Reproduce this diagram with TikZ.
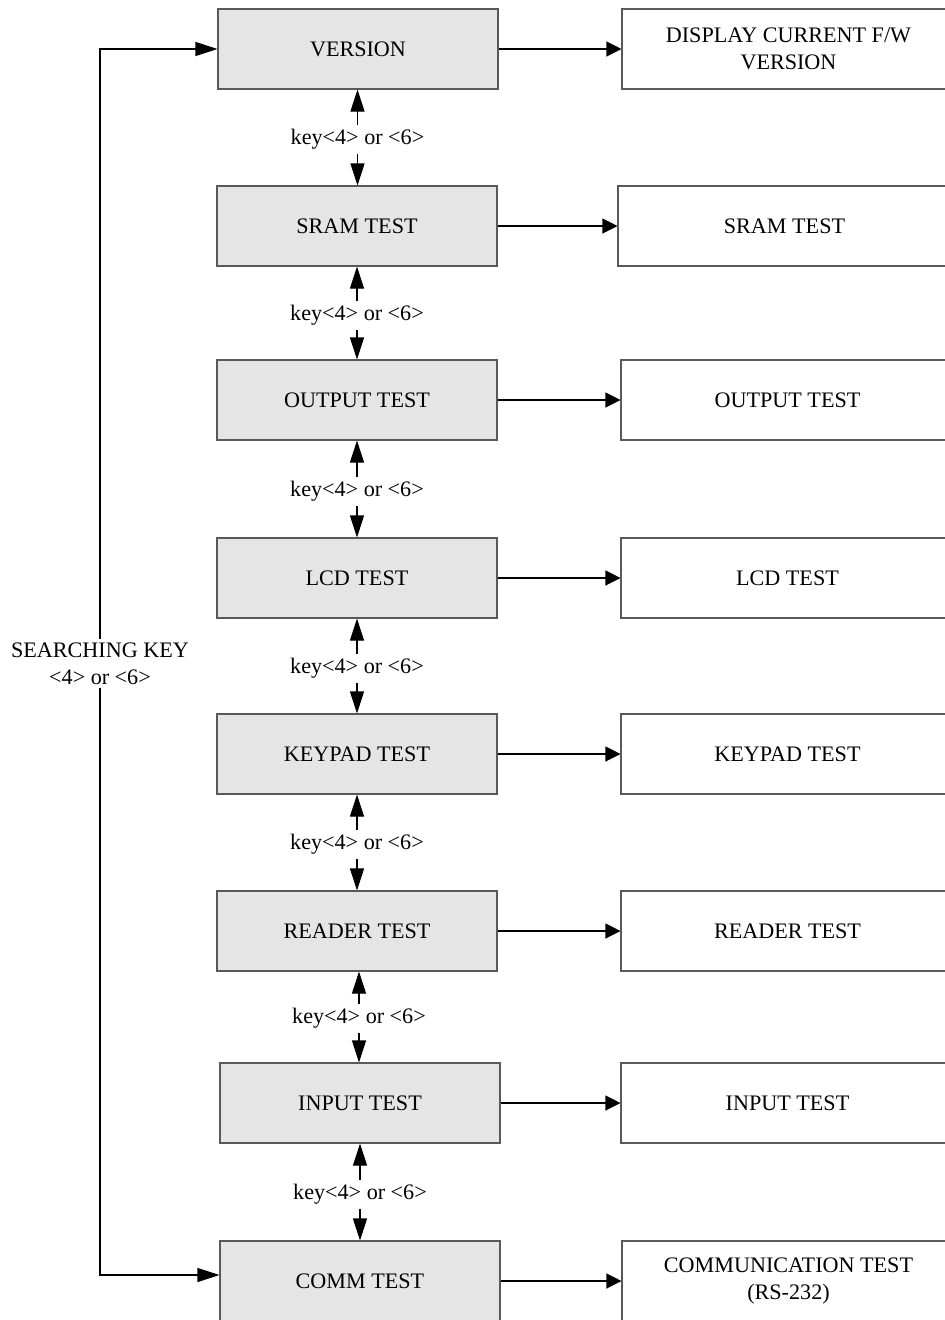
\documentclass[tikz,border=0pt]{standalone}
\usepackage{fontspec}
\setmainfont{Liberation Serif}
\usetikzlibrary{positioning,arrows.meta}

\begin{document}
\begin{tikzpicture}[line width=0.6pt, draw=black,
	>={Triangle[length=0.44cm,width=0.28cm]},
	every node/.style={font=\fontsize{12.6}{15.3}\selectfont, align=center},
	menu/.style={draw=black!65, fill=black!10, minimum width=5.6cm, minimum height=1.6cm},
	result/.style={draw=black!65, fill=white, minimum width=6.66cm, minimum height=1.6cm},
	keylbl/.style={inner sep=2pt},
	go/.style={-{Triangle[length=0.3cm,width=0.3cm]}}]
	\useasboundingbox (0,0) rectangle (18.9,-26.4);

	% menu entries
	\node [menu] (0) at (7.16,-0.98) {VERSION};
	\node [menu] (1) at (7.14,-4.52) {SRAM TEST};
	\node [menu] (2) at (7.14,-8.00) {OUTPUT TEST};
	\node [menu] (3) at (7.14,-11.56) {LCD TEST};
	\node [menu] (4) at (7.14,-15.08) {KEYPAD TEST};
	\node [menu] (5) at (7.14,-18.62) {READER TEST};
	\node [menu] (6) at (7.20,-22.06) {INPUT TEST};
	\node [menu] (7) at (7.20,-25.62) {COMM TEST};

	% what each entry does
	\node [result] (d0) at (15.77,-0.98) {DISPLAY CURRENT F/W\\VERSION};
	\node [result] (d1) at (15.69,-4.52) {SRAM TEST};
	\node [result] (d2) at (15.75,-8.00) {OUTPUT TEST};
	\node [result] (d3) at (15.75,-11.56) {LCD TEST};
	\node [result] (d4) at (15.75,-15.08) {KEYPAD TEST};
	\node [result] (d5) at (15.75,-18.62) {READER TEST};
	\node [result] (d6) at (15.75,-22.06) {INPUT TEST};
	\node [result] (d7) at (15.77,-25.62) {COMMUNICATION TEST\\(RS-232)};

	% keys between entries
	\node [keylbl] (k1) at (7.15,-2.79) {key<4> or <6>};
	\node [keylbl] (k2) at (7.14,-6.31) {key<4> or <6>};
	\node [keylbl] (k3) at (7.14,-9.83) {key<4> or <6>};
	\node [keylbl] (k4) at (7.14,-13.37) {key<4> or <6>};
	\node [keylbl] (k5) at (7.14,-16.89) {key<4> or <6>};
	\node [keylbl] (k6) at (7.18,-20.37) {key<4> or <6>};
	\node [keylbl] (k7) at (7.20,-23.89) {key<4> or <6>};

	\node [keylbl] (s) at (2.0,-13.27) {SEARCHING KEY\\<4> or <6>};

	\draw [->] (k1.north) -- (k1.north |- 0.south);
	\draw [->] (k1.south) -- (k1.south |- 1.north);
	\draw [->] (k2.north) -- (k2.north |- 1.south);
	\draw [->] (k2.south) -- (k2.south |- 2.north);
	\draw [->] (k3.north) -- (k3.north |- 2.south);
	\draw [->] (k3.south) -- (k3.south |- 3.north);
	\draw [->] (k4.north) -- (k4.north |- 3.south);
	\draw [->] (k4.south) -- (k4.south |- 4.north);
	\draw [->] (k5.north) -- (k5.north |- 4.south);
	\draw [->] (k5.south) -- (k5.south |- 5.north);
	\draw [->] (k6.north) -- (k6.north |- 5.south);
	\draw [->] (k6.south) -- (k6.south |- 6.north);
	\draw [->] (k7.north) -- (k7.north |- 6.south);
	\draw [->] (k7.south) -- (k7.south |- 7.north);

	\draw [go] (0) -- (d0);
	\draw [go] (1) -- (d1);
	\draw [go] (2) -- (d2);
	\draw [go] (3) -- (d3);
	\draw [go] (4) -- (d4);
	\draw [go] (5) -- (d5);
	\draw [go] (6) -- (d6);
	\draw [go] (7) -- (d7);

	\draw [->] (s.north) |- (0.west);
	\draw [->] (s.south) |- ([yshift=0.12cm]7.west);
\end{tikzpicture}
\end{document}
